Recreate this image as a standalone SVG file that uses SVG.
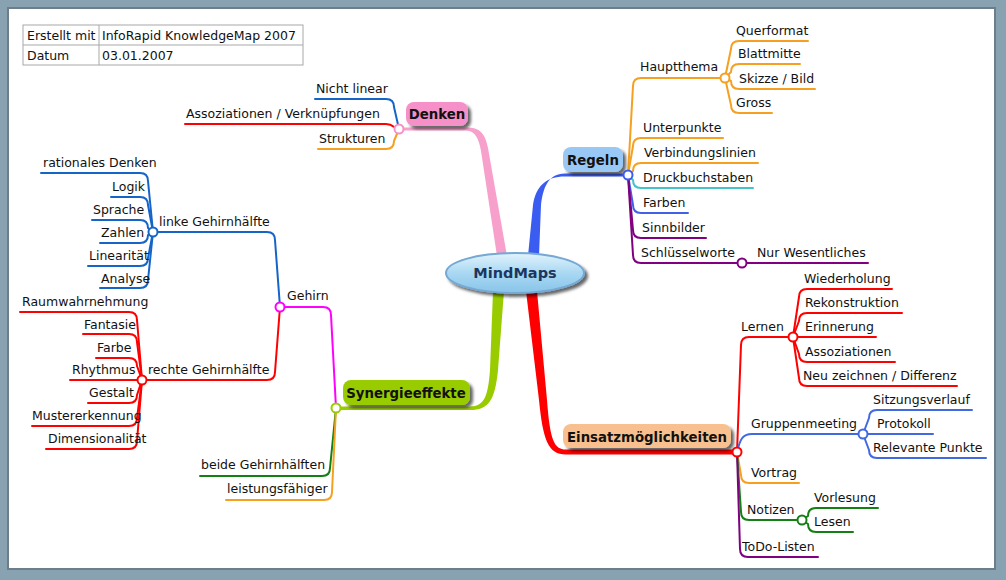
<svg xmlns="http://www.w3.org/2000/svg" width="1006" height="580" viewBox="0 0 1006 580">
<defs>
<filter id="sh" x="-20%" y="-40%" width="150%" height="190%">
<feDropShadow dx="3" dy="3" stdDeviation="1.8" flood-color="#000" flood-opacity="0.6"/>
</filter>
<linearGradient id="eg" x1="0" y1="0" x2="0" y2="1">
<stop offset="0" stop-color="#e2f3fc"/>
<stop offset="0.5" stop-color="#a9d8f2"/>
<stop offset="1" stop-color="#88c4ea"/>
</linearGradient>
</defs>
<style>
text{font-family:"DejaVu Sans",Verdana,sans-serif;font-size:12.5px;fill:#111}
.b{font-weight:bold;font-size:13.3px}
.c{fill:none;stroke-width:2;stroke-linecap:round;stroke-linejoin:round}
.k{fill:#fff;stroke-width:2}
.or{stroke:#f5a020}.re{stroke:#ff0000}.bl{stroke:#1565c8}.rb{stroke:#4169e1}.pu{stroke:#800080}.gr{stroke:#138013}.cy{stroke:#45c3c8}.mg{stroke:#ff00ff}.fb{stroke:#4060e8}
</style>
<rect x="0" y="0" width="1006" height="580" fill="#89a2b1"/>
<rect x="8" y="8" width="987" height="561" fill="#ffffff" stroke="#6c7e8a" stroke-width="2"/>
<g id="info-table">
<rect x="23" y="25" width="280" height="40" fill="#fff" stroke="#a8a8a8" stroke-width="1"/>
<line x1="23" y1="45" x2="303" y2="45" stroke="#a8a8a8"/>
<line x1="99" y1="25" x2="99" y2="65" stroke="#a8a8a8"/>
<text x="27" y="40">Erstellt mit</text>
<text x="102" y="40">InfoRapid KnowledgeMap 2007</text>
<text x="27" y="60">Datum</text>
<text x="102" y="60">03.01.2007</text>
</g>
<g id="connectors">
<path d="M399,127.5 L466,127.5 C480,127.5 485,133 488,148 L507,256 L497,256 L481,151 C479,139 475,130.5 466,130.5 L399,130.5 Z" fill="#f7a0cc"/>
<path d="M628,173.5 L565,173.5 C548,173.5 543,188 541,205 L539,256 L528,256 L533,205 C536,186 546,176.5 565,176.5 L628,176.5 Z" fill="#3a5cf0"/>
<path d="M526,291 L539,400 C543,440 548,454.5 566,454.5 L737,454.5 L737,449.5 L566,449.5 C554,449.5 550,440 547,400 L537,291 Z" fill="#ff0000"/>
<path d="M336,406.5 L470,406.5 C485,406.5 488,395 490,370 L493,291 L504,291 L498,370 C495,400 489,410 470,410 L336,410 Z" fill="#99cc00"/>

<path class="c bl" d="M399,129 L394,107 Q394,99 386,99 L315,99"/>
<path class="c re" d="M399,129 C394,129 394,124 386,124 L185,124"/>
<path class="c or" d="M399,129 L394,141 Q394,149 386,149 L318,149"/>

<path class="c or" d="M628,175 L633,86 Q633,78 641,78 L725,78"/>
<path class="c or" d="M628,175 L633,146 Q633,138 641,138 L723,138"/>
<path class="c or" d="M628,175 L633,171 Q633,163 641,163 L758,163"/>
<path class="c cy" d="M628,175 L633,180 Q633,188 641,188 L753,188"/>
<path class="c fb" d="M628,175 L633,205 Q633,213 641,213 L688,213"/>
<path class="c pu" d="M628,175 L633,230 Q633,238 641,238 L706,238"/>
<path class="c pu" d="M628,175 L633,255 Q633,263 641,263 L742,263"/>
<path class="c or" d="M725,78 L731,49 Q731,41 739,41 L808,41"/>
<path class="c or" d="M725,78 L731,72 Q731,64 739,64 L800,64"/>
<path class="c or" d="M725,78 L731,81 Q731,89 739,89 L815,89"/>
<path class="c or" d="M725,78 L731,105 Q731,113 739,113 L772,113"/>
<path class="c pu" d="M742,263 L868,263"/>

<path class="c re" d="M737,452 L741,345 Q741,337 749,337 L793,337"/>
<path class="c rb" d="M737,452 C740,440 742,434 752,434 L863,434"/>
<path class="c or" d="M737,452 L741,475 Q741,483 749,483 L799,483"/>
<path class="c gr" d="M737,452 L741,512 Q741,520 749,520 L802,520"/>
<path class="c pu" d="M737,452 L740,549 Q740,557 748,557 L818,557"/>
<path class="c re" d="M793,337 L799,297 Q799,289 807,289 L892,289"/>
<path class="c re" d="M793,337 L799,321 Q799,313 807,313 L902,313"/>
<path class="c re" d="M793,337 L876,337"/>
<path class="c re" d="M793,337 L799,354 Q799,362 807,362 L895,362"/>
<path class="c re" d="M793,337 L799,378 Q799,386 807,386 L957,386"/>
<path class="c rb" d="M863,434 L869,418 Q869,410 877,410 L972,410"/>
<path class="c rb" d="M863,434 L933,434"/>
<path class="c rb" d="M863,434 L869,450 Q869,458 877,458 L986,458"/>
<path class="c gr" d="M802,520 L808,516 Q808,508 816,508 L878,508"/>
<path class="c gr" d="M802,520 L808,524 Q808,532 816,532 L853,532"/>

<path class="c mg" d="M336,408 L331,315 Q331,307 323,307 L280,307"/>
<path class="c gr" d="M336,408 L330,468 Q330,476 322,476 L200,476"/>
<path class="c or" d="M336,408 L332,492 Q332,500 324,500 L226,500"/>

<path class="c bl" d="M280,307 L275,240 Q275,232 267,232 L153,232"/>
<path class="c re" d="M280,307 L275,372 Q275,380 267,380 L142,380"/>

<path class="c bl" d="M153,232 L148,181 Q148,173 140,173 L41,173"/>
<path class="c bl" d="M153,232 L148,205 Q148,197 140,197 L111,197"/>
<path class="c bl" d="M153,232 L148,228 Q148,220 140,220 L92,220"/>
<path class="c bl" d="M153,232 L148,235 Q148,243 140,243 L100,243"/>
<path class="c bl" d="M153,232 L148,258 Q148,266 140,266 L88,266"/>
<path class="c bl" d="M153,232 L148,280 Q148,288 140,288 L100,288"/>

<path class="c re" d="M142,380 L137,320 Q137,312 129,312 L20,312"/>
<path class="c re" d="M142,380 L137,342 Q137,334 129,334 L83,334"/>
<path class="c re" d="M142,380 L137,366 Q137,358 129,358 L96,358"/>
<path class="c re" d="M142,380 L70,380"/>
<path class="c re" d="M142,380 L137,395 Q137,403 129,403 L88,403"/>
<path class="c re" d="M142,380 L137,418 Q137,426 129,426 L32,426"/>
<path class="c re" d="M142,380 L137,441 Q137,449 129,449 L46,449"/>
</g>

<g id="node-mindmaps">
<ellipse cx="515" cy="273" rx="69" ry="20" fill="url(#eg)" stroke="#74a8d2" stroke-width="2" filter="url(#sh)"/>
<text x="515" y="278" class="b" text-anchor="middle" style="font-size:14.5px;fill:#1b3660">MindMaps</text>
</g>
<g id="node-denken">
<rect x="406" y="102" width="62" height="24" rx="8" fill="#f590c8" filter="url(#sh)"/>
<text x="437" y="119" class="b" text-anchor="middle">Denken</text>
<circle cx="399" cy="129" r="4.5" class="k" stroke="#f590c8"/>
</g>
<g id="node-regeln">
<rect x="563" y="147" width="60" height="25" rx="8" fill="#99c8f5" filter="url(#sh)"/>
<text x="593" y="165" class="b" text-anchor="middle">Regeln</text>
<circle cx="628" cy="175" r="4.5" class="k" stroke="#3a5cf0"/>
</g>
<g id="node-einsatz">
<rect x="563" y="424" width="168" height="24" rx="8" fill="#f8c08e" filter="url(#sh)"/>
<text x="647" y="442" class="b" text-anchor="middle">Einsatzmöglichkeiten</text>
<circle cx="737" cy="452" r="4.5" class="k" stroke="#ff0000"/>
</g>
<g id="node-synergie">
<rect x="343" y="380" width="127" height="25" rx="8" fill="#99cc00" filter="url(#sh)"/>
<text x="406" y="398" class="b" text-anchor="middle">Synergieeffekte</text>
<circle cx="336" cy="408" r="4.5" class="k" stroke="#99cc00"/>
</g>

<g id="nodes-denken-children">
<text x="316" y="93">Nicht linear</text>
<text x="186" y="118">Assoziationen / Verknüpfungen</text>
<text x="319" y="143">Strukturen</text>
</g>
<g id="nodes-regeln-children">
<text x="640" y="71">Hauptthema</text>
<circle cx="725" cy="78" r="4.5" class="k or"/>
<text x="736" y="35">Querformat</text>
<text x="738" y="58">Blattmitte</text>
<text x="739" y="83">Skizze / Bild</text>
<text x="736" y="107">Gross</text>
<text x="643" y="132">Unterpunkte</text>
<text x="644" y="157">Verbindungslinien</text>
<text x="643" y="182">Druckbuchstaben</text>
<text x="643" y="207">Farben</text>
<text x="642" y="232">Sinnbilder</text>
<text x="641" y="257">Schlüsselworte</text>
<circle cx="742" cy="263" r="4.5" class="k pu"/>
<text x="757" y="257">Nur Wesentliches</text>
</g>
<g id="nodes-einsatz-children">
<text x="741" y="331">Lernen</text>
<circle cx="793" cy="337" r="4.5" class="k re"/>
<text x="804" y="283">Wiederholung</text>
<text x="805" y="307">Rekonstruktion</text>
<text x="805" y="331">Erinnerung</text>
<text x="805" y="356">Assoziationen</text>
<text x="803" y="380">Neu zeichnen / Differenz</text>
<text x="751" y="428">Gruppenmeeting</text>
<circle cx="863" cy="434" r="4.5" class="k rb"/>
<text x="873" y="404">Sitzungsverlauf</text>
<text x="877" y="428">Protokoll</text>
<text x="873" y="452">Relevante Punkte</text>
<text x="751" y="477">Vortrag</text>
<text x="747" y="514">Notizen</text>
<circle cx="802" cy="520" r="4.5" class="k gr"/>
<text x="814" y="502">Vorlesung</text>
<text x="814" y="526">Lesen</text>
<text x="742" y="551">ToDo-Listen</text>
</g>
<g id="nodes-synergie-children">
<text x="287" y="300">Gehirn</text>
<circle cx="280" cy="307" r="4.5" class="k mg"/>
<text x="201" y="469">beide Gehirnhälften</text>
<text x="227" y="493">leistungsfähiger</text>
<text x="159" y="226">linke Gehirnhälfte</text>
<circle cx="153" cy="232" r="4.5" class="k bl"/>
<text x="43" y="167">rationales Denken</text>
<text x="112" y="191">Logik</text>
<text x="93" y="214">Sprache</text>
<text x="101" y="237">Zahlen</text>
<text x="89" y="260">Linearität</text>
<text x="101" y="283">Analyse</text>
<text x="148" y="374">rechte Gehirnhälfte</text>
<circle cx="142" cy="380" r="4.5" class="k re"/>
<text x="22" y="306">Raumwahrnehmung</text>
<text x="84" y="329">Fantasie</text>
<text x="97" y="352">Farbe</text>
<text x="72" y="374">Rhythmus</text>
<text x="89" y="397">Gestalt</text>
<text x="32" y="420">Mustererkennung</text>
<text x="48" y="443">Dimensionalität</text>
</g>
</svg>
